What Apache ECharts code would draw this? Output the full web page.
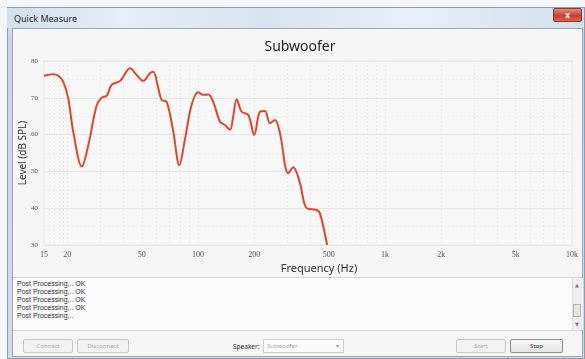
<!DOCTYPE html>
<html>
<head>
<meta charset="utf-8">
<script src="https://cdn.jsdelivr.net/npm/echarts@6/dist/echarts.min.js"></script>
<style>
  html, body { margin: 0; padding: 0; width: 585px; height: 359px; overflow: hidden; background: #f4f6f9; font-family: "Noto Sans", "DejaVu Sans", sans-serif; }
  .win { position: absolute; left: 7px; top: 7px; width: 578px; height: 352px; background: linear-gradient(#d9e5f2, #c7d6e8 30px, #cfdcea); border: 1px solid #8c9db3; box-sizing: border-box; }
  .titlebar { position: absolute; left: 7px; top: 8px; width: 577px; height: 20px; background: linear-gradient(90deg, #d3e0ee 0%, #e6eef7 20%, #d8e4f1 45%, #e8eff8 70%, #d3e0ee 100%); }
  .wtitle { position: absolute; left: 14px; top: 12px; font-size: 9px; color: #2a2a2a; }
  .close { position: absolute; left: 553px; top: 8px; width: 29px; height: 14px; background: linear-gradient(#e98a7c, #c8402f 55%, #d9624f); border: 1px solid #8a3b30; box-sizing: border-box; border-radius: 2px; color: #fff; font-size: 8px; text-align: center; line-height: 12px; font-weight: bold; }
  .client { position: absolute; left: 12px; top: 28px; width: 571px; height: 329px; background: #f6f6f6; border: 1px solid #9aa7b8; box-sizing: border-box; }
  .log { position: absolute; left: 13px; top: 277px; width: 569px; height: 54px; background: #fbfbfb; border-top: 1px solid #d6d6d6; border-bottom: 1px solid #d6d6d6; box-sizing: border-box; }
  .logtext { position: absolute; left: 17px; top: 280px; font-family: "Liberation Sans", sans-serif; font-size: 7px; line-height: 8px; color: #333; }
  .scroll { position: absolute; left: 572px; top: 278px; width: 10px; height: 52px; background: #f0f0f0; border-left: 1px solid #e0e0e0; }
  .thumb { position: absolute; left: 573px; top: 304px; width: 8px; height: 13px; background: #e4e4e4; border: 1px solid #b5b5b5; box-sizing: border-box; }
  .arr { position: absolute; left: 575px; font-size: 5px; color: #777; }
  .btn { position: absolute; top: 339px; height: 14px; border: 1px solid #c6c6c6; background: #f3f3f3; border-radius: 2px; box-sizing: border-box; font-size: 6px; line-height: 12px; text-align: center; color: #aaa; }
  .lbl { position: absolute; top: 342px; font-size: 6.5px; color: #333; }
  .combo { position: absolute; left: 263px; top: 339px; width: 81px; height: 14px; border: 1px solid #cfcfcf; background: #fafafa; box-sizing: border-box; font-size: 6px; line-height: 12px; color: #aaa; padding-left: 3px; }
  #chart { position: absolute; left: 0; top: 0; width: 585px; height: 359px; }
</style>
</head>
<body>
<div class="win"></div>
<div class="titlebar"></div>
<div class="wtitle">Quick Measure</div>
<div class="close">x</div>
<div class="client"></div>
<div class="log"></div>
<div class="logtext">Post Processing... OK<br>Post Processing... OK<br>Post Processing... OK<br>Post Processing... OK<br>Post Processing...</div>
<div class="scroll"></div>
<div class="arr" style="top:282px">&#9650;</div>
<div class="thumb"></div>
<div class="arr" style="top:321px">&#9660;</div>
<div class="btn" style="left:23px;width:50px">Connect</div>
<div class="btn" style="left:77px;width:52px">Disconnect</div>
<div class="lbl" style="left:233px">Speaker:</div>
<div class="combo">Subwoofer<span style="position:absolute;right:4px;color:#999">&#9662;</span></div>
<div class="btn" style="left:456px;width:50px">Start</div>
<div class="btn" style="left:510px;width:53px;color:#333;border-color:#8e8e8e;background:linear-gradient(#f7f7f7,#e4e4e4)">Stop</div>
<div id="chart"></div>
<script>
// Measured response (Hz, dB SPL)
const freqHz = [15, 16.8, 17.9, 19.0, 20.2, 21.5, 23.9, 25.9, 28.7, 30.5, 32.5, 34.5, 38.3, 43.3, 47.0, 50.9, 55.3, 57.6, 61.3, 63.9, 68.0, 73.7, 79.4, 85.1, 92.5, 100.3, 106.6, 113.4, 120.6, 131.0, 139.3, 148.2, 153.2, 161.0, 171.2, 185.7, 199.8, 214.4, 228.0, 242.5, 257.9, 274.2, 303.7, 323.1, 350.8, 381.0, 431.0, 448.8, 490];
const levelDb = [76.0, 76.4, 76.0, 74.4, 69.9, 60.8, 51.3, 57.2, 68.0, 70.0, 70.6, 73.5, 74.6, 78.0, 76.2, 74.6, 76.7, 77.1, 72.6, 69.4, 68.9, 60.8, 51.7, 58.7, 68.2, 71.5, 70.8, 70.9, 68.9, 63.5, 62.6, 61.3, 64.0, 69.6, 66.2, 65.3, 59.9, 66.2, 66.4, 63.1, 64.0, 60.4, 49.5, 51.1, 46.8, 40.0, 39.5, 38.6, 30.0];

// Frequency axis labels and grid lines
const freqLabelValues = [15, 20, 50, 100, 200, 500, 1000, 2000, 5000, 10000];
const freqLabelText = ['15', '20', '50', '100', '200', '500', '1k', '2k', '5k', '10k'];
const freqGridValues = [15, 16, 17, 18, 19, 20, 30, 40, 50, 60, 70, 80, 90, 100, 200, 300, 400, 500, 600, 700, 800, 900, 1000, 2000, 3000, 4000, 5000, 6000, 7000, 8000, 9000, 10000];

const chart = echarts.init(document.getElementById('chart'), null, { renderer: 'canvas' });
const points = freqHz.map((f, i) => [f, levelDb[i]]);

chart.setOption({
  backgroundColor: 'transparent',
  animation: false,
  title: {
    text: 'Subwoofer',
    left: 295,
    top: 35,
    textAlign: 'center',
    textStyle: { fontFamily: 'Noto Sans', fontSize: 14, fontWeight: 'normal', color: '#222' }
  },
  grid: { left: 44, top: 61, width: 528, height: 184, show: true, borderColor: '#e8e8e8', borderWidth: 1, backgroundColor: '#f8f8f8' },
  xAxis: {
    type: 'log',
    logBase: 10,
    min: 15,
    max: 10000,
    name: 'Frequency (Hz)',
    nameLocation: 'middle',
    nameMoveOverlap: false,
    nameGap: 18,
    nameTextStyle: { fontFamily: 'Noto Sans', fontSize: 11, color: '#333', padding: [0, 0, 0, 22] },
    axisLine: { show: false },
    axisTick: { show: false, customValues: freqGridValues },
    axisLabel: {
      customValues: freqLabelValues,
      margin: 6,
      fontFamily: 'Liberation Serif',
      fontSize: 8,
      color: '#555',
      formatter: v => freqLabelText[freqLabelValues.indexOf(Math.round(v))] ?? ''
    },
    splitLine: { show: true, lineStyle: { color: '#ebebeb', type: [2, 2], width: 1 } }
  },
  yAxis: {
    type: 'value',
    min: 30,
    max: 80,
    interval: 10,
    name: 'Level (dB SPL)',
    nameLocation: 'middle',
    nameMoveOverlap: false,
    nameGap: 16,
    nameTextStyle: { fontFamily: 'Noto Sans', fontSize: 10, color: '#333' },
    axisLine: { show: false },
    axisTick: { show: false },
    axisLabel: { margin: 6, fontFamily: 'Liberation Serif', fontSize: 7, color: '#555' },
    splitLine: { show: true, lineStyle: { color: '#e8e8e8', width: 1 } },
    minorTick: { show: false, splitNumber: 2 },
    minorSplitLine: { show: true, lineStyle: { color: '#f0f0f0', type: [2, 2] } }
  },
  series: [{
    type: 'line',
    data: points,
    smooth: 0.35,
    showSymbol: false,
    clip: true,
    lineStyle: { color: '#e2452c', width: 2 }
  }]
});
</script>
</body>
</html>
